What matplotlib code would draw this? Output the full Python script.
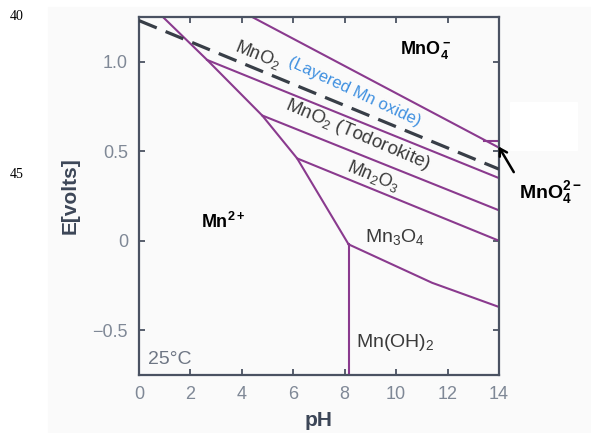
# coding: utf-8
"""Pourbaix diagram of manganese (25 C)
"""
import matplotlib
matplotlib.use("Agg")
import matplotlib.pyplot as plt
from matplotlib.patches import Rectangle

###############################################################################
# data
ph_ticks = [0, 2, 4, 6, 8, 10, 12, 14]
e_ticks = [-0.5, 0, 0.5, 1.0]
e_tick_labels = ["\u22120.5", "0", "0.5", "1.0"]

# water oxidation line O2/H2O
water_ph = [0.0, 14.0]
water_e = [1.23, 0.40]

# Mn2+ field boundary (left, steep)
mn2_ph = [0.93, 2.65, 4.79, 6.15, 8.15]
mn2_e = [1.25, 1.01, 0.70, 0.46, -0.02]

# Mn2+ / Mn(OH)2
mnoh2_ph = [8.15, 8.15]
mnoh2_e = [-0.02, -0.75]

# MnO4- / MnO2 (layered)
mno4_ph = [4.40, 14.0]
mno4_e = [1.25, 0.52]

# MnO4- / MnO4 2-
mno42_ph = [13.4, 14.0]
mno42_e = [0.56, 0.56]

# MnO2 layered / MnO2 todorokite
layered_ph = [2.65, 14.0]
layered_e = [1.01, 0.35]

# MnO2 todorokite / Mn2O3
todo_ph = [4.79, 14.0]
todo_e = [0.70, 0.17]

# Mn2O3 / Mn3O4
mn2o3_ph = [6.15, 14.0]
mn2o3_e = [0.46, 0.0]

# Mn3O4 / Mn(OH)2
mn3o4_ph = [8.15, 11.4, 14.0]
mn3o4_e = [-0.02, -0.235, -0.37]

boundaries = [(mn2_ph, mn2_e), (mnoh2_ph, mnoh2_e), (mno4_ph, mno4_e),
              (mno42_ph, mno42_e), (layered_ph, layered_e),
              (todo_ph, todo_e), (mn2o3_ph, mn2o3_e), (mn3o4_ph, mn3o4_e)]

###############################################################################
# style
plt.rcParams["font.family"] = ["Liberation Sans", "DejaVu Sans"]
plt.rcParams["mathtext.fontset"] = "custom"
plt.rcParams["mathtext.rm"] = "Liberation Sans"
plt.rcParams["mathtext.it"] = "Liberation Sans:italic"
plt.rcParams["mathtext.bf"] = "Liberation Sans:bold"

purple = "#8a3a8e"
spine_col = "#4a5262"
tick_col = "#7f8896"
label_col = "#3c4657"
txt_col = "#3a3a3a"
blue = "#3f90e0"
bg = "#fafafa"

###############################################################################
# plotting
fig = plt.figure(figsize=(5.91, 4.33), dpi=100)
fig.patch.set_facecolor("white")
# screenshot background
fig.patches.append(Rectangle((48 / 591., 0), 1 - 48 / 591., 1 - 7 / 433.,
                             transform=fig.transFigure, color=bg, zorder=-10))
fig.patches.append(Rectangle((510 / 591., 1 - 150 / 433.), 67 / 591., 48 / 433.,
                             transform=fig.transFigure, color="white",
                             zorder=-9))

ax = fig.add_axes([139 / 591., 1 - 375 / 433., 360 / 591., 358 / 433.])
ax.set_facecolor(bg)

for ph, e in boundaries:
    ax.plot(ph, e, "-", color=purple, linewidth=1.5, zorder=2)
ax.plot(water_ph, water_e, "--", color="#383e47", linewidth=2.3,
        dashes=(6, 3), zorder=3)

ax.set_xlim(0, 14)
ax.set_ylim(-0.75, 1.25)
ax.set_xticks(ph_ticks)
ax.set_yticks(e_ticks)
ax.set_yticklabels(e_tick_labels)
ax.tick_params(direction="in", length=4, width=1.3, color=spine_col,
               labelcolor=tick_col, labelsize=13, top=True, right=True,
               pad=8)
for sp in ax.spines.values():
    sp.set_color(spine_col)
    sp.set_linewidth(1.6)

ax.set_xlabel("pH", fontsize=15, fontweight="bold", color=label_col,
              labelpad=6)
ax.set_ylabel("E[volts]", fontsize=15, fontweight="bold", color=label_col,
              labelpad=9)

# region labels
ax.text(4.63, 1.04, "MnO$_2$", fontsize=13, color=txt_col, rotation=-22,
        ha="center", va="center")
ax.text(8.37, 0.83, "(Layered Mn oxide)", fontsize=12, color=blue,
        rotation=-25, ha="center", va="center")
ax.text(8.52, 0.59, "MnO$_2$ (Todorokite)", fontsize=13.5, color=txt_col,
        rotation=-23, ha="center", va="center")
ax.text(9.1, 0.36, "Mn$_2$O$_3$", fontsize=13, color=txt_col, rotation=-22,
        ha="center", va="center")
ax.text(9.96, 0.02, "Mn$_3$O$_4$", fontsize=14, color=txt_col,
        ha="center", va="center")
ax.text(9.96, -0.57, "Mn(OH)$_2$", fontsize=14, color=txt_col,
        ha="center", va="center")
ax.text(1.2, -0.665, "25\u00b0C", fontsize=14, color="#6e7684",
        ha="center", va="center")
ax.text(11.13, 1.067, r"$\mathbf{MnO_4^-}$", fontsize=13, color="black",
        ha="center", va="center")
ax.text(3.27, 0.106, r"$\mathbf{Mn^{2+}}$", fontsize=13, color="black",
        ha="center", va="center")
ax.text(16.0, 0.27, r"$\mathbf{MnO_4^{2-}}$", fontsize=14, color="black",
        ha="center", va="center", clip_on=False)
ax.annotate("", xy=(13.93, 0.54), xytext=(14.63, 0.37),
            arrowprops=dict(arrowstyle="->,head_length=0.5,head_width=0.3",
                            color="black", lw=1.8),
            annotation_clip=False)

# line numbers of the page
fig.text(17 / 591., 1 - 17 / 433., "40", fontsize=10, family="Liberation Serif",
         ha="center", va="center")
fig.text(17 / 591., 1 - 175 / 433., "45", fontsize=10,
         family="Liberation Serif", ha="center", va="center")

fig.savefig("out.png", dpi=100)
